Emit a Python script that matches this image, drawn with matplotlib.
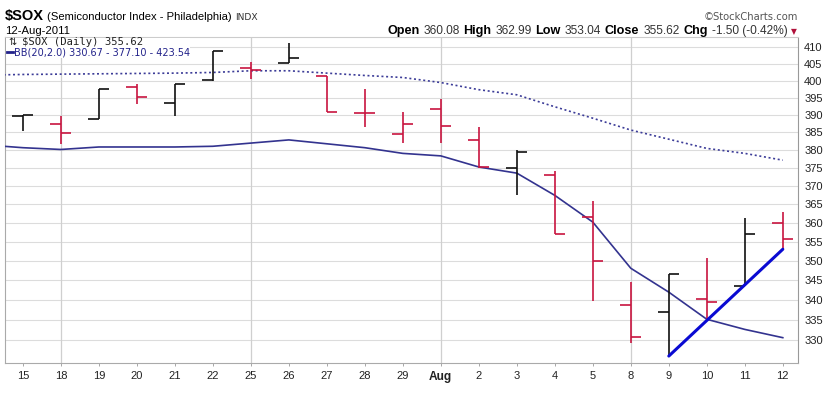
import matplotlib
matplotlib.use("Agg")
import matplotlib.pyplot as plt
from matplotlib.ticker import FixedLocator, NullLocator, FuncFormatter
from matplotlib.lines import Line2D
from matplotlib.patches import Rectangle

# ---------------- data ----------------
dates = ['15', '18', '19', '20', '21', '22', '25', '26', '27', '28', '29',
         'Aug', '2', '3', '4', '5', '8', '9', '10', '11', '12']
opens = [389.6, 387.4, 388.7, 398.0, 393.5, 400.1, 403.8, 405.3, 401.2, 390.6, 384.4,
         391.8, 382.8, 374.9, 373.1, 361.5, 338.8, 336.9, 340.2, 343.5, 360.08]
highs = [390.0, 389.6, 397.6, 399.1, 399.1, 408.9, 405.6, 411.2, 401.2, 397.4, 390.8,
         394.7, 386.6, 380.0, 374.2, 366.0, 344.6, 346.6, 350.7, 361.2, 362.99]
lows = [385.2, 381.6, 388.7, 393.1, 389.5, 399.9, 400.4, 405.3, 390.8, 386.6, 381.9,
        381.9, 375.0, 367.5, 357.0, 339.8, 329.4, 326.2, 335.0, 343.5, 353.04]
closes = [390.0, 384.9, 397.4, 395.1, 398.9, 408.9, 403.1, 406.6, 390.8, 390.6, 387.3,
          386.9, 375.2, 379.4, 357.0, 350.0, 330.8, 346.6, 339.4, 357.12, 355.62]
# Bollinger Bands (20,2.0): middle (SMA) and lower band, one value per day
bb_mid = [401.8, 401.9, 402.0, 402.1, 402.2, 402.4, 402.9, 402.9, 402.2, 401.5, 400.9,
          399.4, 397.3, 395.8, 392.3, 389.0, 385.6, 383.0, 380.4, 379.0, 377.10]
bb_low = [380.6, 380.1, 380.8, 380.8, 380.8, 381.0, 381.9, 382.8, 381.7, 380.6, 379.0,
          378.3, 375.2, 373.5, 367.4, 360.2, 348.1, 342.0, 335.2, 332.7, 330.67]
bb_up_last = 423.54
# values of the day before the first shown day (line enters from the left edge)
bb_mid_prev = 401.6
bb_low_prev = 381.4
# trend line drawn between the lows of these two days
trend_days = ['9', '12']
week_starts = ['18', '25', 'Aug', '8']
y_ticks = list(range(330, 411, 5))
chg_text = '-1.50 (-0.42%)'

# ---------------- figure ----------------
W, H = 835, 400
fig = plt.figure(figsize=(W / 100, H / 100), dpi=100)
fig.patch.set_facecolor('white')
ax = fig.add_axes([5 / W, 1 - 362.7 / H, (798 - 5) / W, (362.7 - 37) / H])

RED = '#C8143F'
BLK = '#111111'
NAVY = '#33338F'

x = list(range(len(dates)))
tick_w = 0.28
for i in x:
    up = True if i == 0 else closes[i] >= closes[i - 1]
    c = BLK if up else RED
    ax.plot([i, i], [lows[i], highs[i]], color=c, lw=1.2, solid_capstyle='butt', zorder=4)
    ax.plot([i - tick_w, i], [opens[i], opens[i]], color=c, lw=1.2, solid_capstyle='butt', zorder=4)
    ax.plot([i, i + tick_w], [closes[i], closes[i]], color=c, lw=1.2, solid_capstyle='butt', zorder=4)

xb = [-1] + x
ax.plot(xb, [bb_low_prev] + bb_low, color=NAVY, lw=1.2, zorder=3)
ax.plot(xb, [bb_mid_prev] + bb_mid, color='#3C3C98', lw=1.2, ls=(0, (1.2, 1.6)), zorder=3)

i0, i1 = dates.index(trend_days[0]), dates.index(trend_days[1])
ax.plot([i0, i1], [lows[i0], lows[i1]], color='#0A0AD2', lw=2.2, solid_capstyle='round', zorder=5)

ax.set_yscale('log')
ax.set_ylim(324.6, 413.1)
ax.set_xlim(-0.47, 20.4)
ax.yaxis.set_major_locator(FixedLocator(y_ticks))
ax.yaxis.set_minor_locator(NullLocator())
ax.yaxis.set_major_formatter(FuncFormatter(lambda v, p: f"{v:.0f}"))
ax.yaxis.tick_right()
ax.tick_params(axis='y', length=0, pad=4.5, labelsize=8, labelcolor='#222222')
for t in ax.get_yticklabels():
    t.set_fontfamily('Liberation Sans')

ax.set_xticks(x)
ax.set_xticklabels(dates, fontfamily='Liberation Sans', fontsize=8, color='#222222')
ax.tick_params(axis='x', length=2, width=0.6, color='#999999', pad=4)
for t in ax.get_xticklabels():
    if t.get_text() == 'Aug':
        t.set_fontweight('bold')
        t.set_fontsize(8.6)

for v in y_ticks:
    ax.axhline(v, color='#DCDCDC', lw=0.8, zorder=1)
for d in week_starts:
    ax.axvline(dates.index(d), color='#CFCFCF', lw=0.9, zorder=1)

for s in ['left', 'bottom', 'top']:
    ax.spines[s].set_color('#AAAAAA')
    ax.spines[s].set_linewidth(0.8)
ax.spines['top'].set_color('#CCCCCC')
ax.spines['right'].set_color('#999999')
ax.spines['right'].set_linestyle((0, (1, 1)))
ax.spines['right'].set_linewidth(0.8)

# ---------------- texts ----------------
renderer = fig.canvas.get_renderer()


def place(pieces, x0, ybase, right=False, gap=3):
    texts = []
    xx = x0
    for s, kw in pieces:
        t = fig.text(xx / W, 1 - ybase / H, s, va='baseline', ha='left', **kw)
        bb = t.get_window_extent(renderer)
        xx += bb.width + gap
        texts.append(t)
    if right:
        shift = x0 - (xx - gap)
        for t in texts:
            px, py = t.get_position()
            t.set_position((px + shift / W, py))
    return texts


place([('$SOX', dict(fontsize=10.5, fontweight='bold', fontfamily='Liberation Sans')),
       ('(Semiconductor Index - Philadelphia)', dict(fontsize=8.1, fontfamily='Liberation Sans')),
       ('INDX', dict(fontsize=6.6, fontfamily='DejaVu Sans', color='#333333'))], 5, 20, gap=3)
fig.text(5 / W, 1 - 34 / H, '12-Aug-2011', fontsize=8.1, fontfamily='Liberation Sans', va='baseline')
fig.text(798 / W, 1 - 19.5 / H, '\u00a9StockCharts.com', fontsize=7.2, fontfamily='DejaVu Sans',
         color='#555555', ha='right', va='baseline')

B = dict(fontsize=9.1, fontweight='bold', fontfamily='Liberation Sans')
N = dict(fontsize=8.6, fontfamily='Liberation Sans', color='#333333')
place([('Open', B), (f'{opens[-1]:.2f}', N), ('High', B), (f'{highs[-1]:.2f}', N),
       ('Low', B), (f'{lows[-1]:.2f}', N), ('Close', B), (f'{closes[-1]:.2f}', N),
       ('Chg', B), (chg_text, N),
       ('\u25BC', dict(fontsize=5.5, fontfamily='DejaVu Sans', color='#B0103A'))],
      797, 34, right=True, gap=3.8)

# legend inside the plot (white panel hides the gridline behind it)
fig.add_artist(Rectangle((5.6 / W, 1 - 57.5 / H), (190 - 5.6) / W, (57.5 - 37.6) / H,
                         facecolor='white', edgecolor='none', zorder=2))
fig.text(22 / W, 1 - 45 / H, f'$SOX (Daily) {closes[-1]:.2f}', fontsize=7.6,
         fontfamily='DejaVu Sans Mono', va='baseline', color='#222222', zorder=3)
fig.text(8 / W, 1 - 45 / H, '\u21C5', fontsize=7, fontfamily='DejaVu Sans',
         va='baseline', color='#222222', zorder=3)
fig.text(13.5 / W, 1 - 55.3 / H,
         f'BB(20,2.0) {bb_low[-1]:.2f} - {bb_mid[-1]:.2f} - {bb_up_last:.2f}',
         fontsize=7.0, fontfamily='DejaVu Sans', va='baseline', color='#22228A', zorder=3)
fig.add_artist(Line2D([7 / W, 12.8 / W], [1 - 52.3 / H, 1 - 52.3 / H], color='#22228A', lw=2.0,
                      zorder=3))

fig.savefig('out.png', dpi=100, facecolor='white')
